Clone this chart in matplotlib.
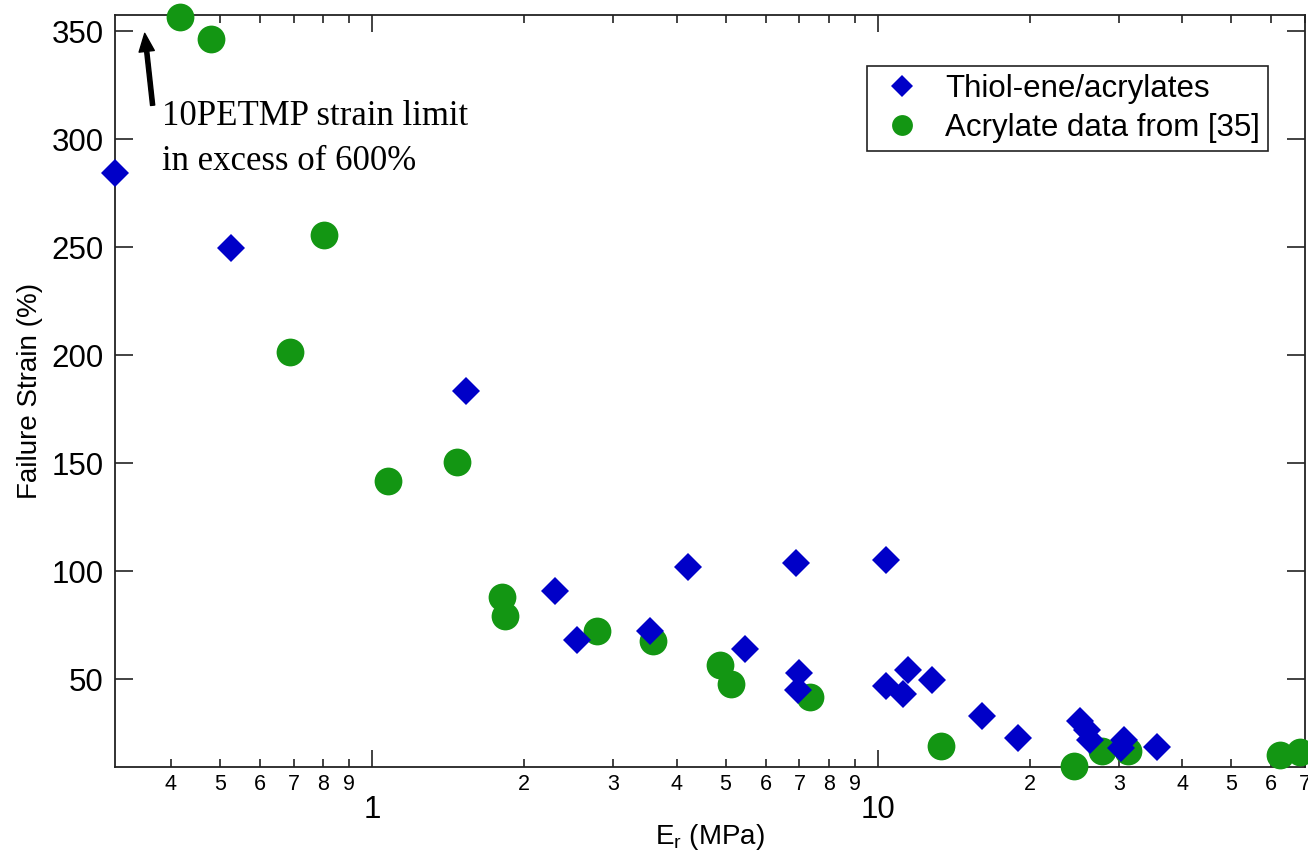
import numpy as np
import matplotlib.pyplot as plt
from matplotlib.ticker import FixedLocator, FixedFormatter

# Thiol-ene/acrylates (blue diamonds)
thiol_E = [0.31, 0.525, 1.53, 2.30, 2.54, 3.55, 4.22, 5.47, 6.89, 6.98, 6.95,
           10.37, 10.37, 11.2, 11.46, 12.8, 16.1, 18.97, 25.1, 25.9, 26.3,
           30.7, 30.3, 35.7]
thiol_strain = [284.5, 249.5, 183.3, 90.7, 68.0, 72.2, 101.9, 63.9, 103.7, 52.8, 44.9,
                105.1, 46.8, 43.0, 54.2, 49.5, 32.9, 22.7, 30.6, 26.4, 21.8,
                21.8, 18.0, 18.5]

# Acrylate data from [35] (green circles)
acr_E = [0.416, 0.481, 0.689, 0.804, 1.075, 1.47, 1.81, 1.83, 2.79, 3.60,
         4.88, 5.13, 7.34, 13.37, 24.4, 27.8, 31.3, 62.4, 68.3]
acr_strain = [356.5, 346.3, 201.4, 255.6, 141.7, 150.5, 88.0, 79.2, 72.2, 67.6,
              56.5, 47.7, 41.7, 19.0, 9.7, 16.7, 16.7, 14.8, 16.2]

major_x = [1, 10]
minor_x = [0.4, 0.5, 0.6, 0.7, 0.8, 0.9, 2, 3, 4, 5, 6, 7, 8, 9,
           20, 30, 40, 50, 60, 70]
minor_lbl = ['4', '5', '6', '7', '8', '9', '2', '3', '4', '5', '6', '7', '8', '9',
             '2', '3', '4', '5', '6', '7']
y_ticks = [50, 100, 150, 200, 250, 300, 350]

plt.rcParams['font.family'] = ['Liberation Sans', 'DejaVu Sans']

fig = plt.figure(figsize=(13.08, 8.52), dpi=100)
ax = fig.add_axes([0.0879, 0.0998, 0.9098, 0.8826])

blue = '#0000C8'
green = '#139613'

g, = ax.plot(acr_E, acr_strain, 'o', color=green, markersize=20,
             markeredgewidth=0, clip_on=False, zorder=5)
b, = ax.plot(thiol_E, thiol_strain, 'D', color=blue, markersize=14.5,
             markeredgewidth=0, clip_on=False, zorder=6)

ax.set_xscale('log')
ax.set_xlim(0.31, 70)
ax.set_ylim(9.3, 357.5)

ax.xaxis.set_major_locator(FixedLocator(major_x))
ax.xaxis.set_major_formatter(FixedFormatter(['1', '10']))
ax.xaxis.set_minor_locator(FixedLocator(minor_x))
ax.xaxis.set_minor_formatter(FixedFormatter(minor_lbl))
ax.set_yticks(y_ticks)

for s in ax.spines.values():
    s.set_linewidth(1.3)
    s.set_color('#222222')

ax.tick_params(which='both', direction='in', top=True, right=True,
               width=1.2, color='#222222')
ax.tick_params(axis='x', which='major', length=12, pad=20, labelsize=22.5)
ax.tick_params(axis='x', which='minor', length=6, pad=5, labelsize=15.5)
ax.tick_params(axis='y', which='major', length=13, pad=8, labelsize=22.5)

ax.set_xlabel(r'E$_\mathregular{r}$ (MPa)', fontsize=20, labelpad=-2)
ax.set_ylabel('Failure Strain (%)', fontsize=20, labelpad=6)

leg = ax.legend([b, g], ['Thiol-ene/acrylates', 'Acrylate data from [35]'],
                loc='upper right', bbox_to_anchor=(0.969, 0.932),
                borderaxespad=0, fontsize=22.5, markerscale=0.75,
                fancybox=False, edgecolor='#222222', framealpha=1,
                handletextpad=0.5, borderpad=0.25, labelspacing=0.3,
                handlelength=1.75)
leg.get_frame().set_linewidth(1.2)

ax.annotate('', xy=(0.355, 349), xytext=(0.368, 315.7),
            arrowprops=dict(facecolor='black', edgecolor='black',
                            width=3, headwidth=11, headlength=13))
ax.text(0.384, 318, '10PETMP strain limit\nin excess of 600%',
        family=['Liberation Serif', 'DejaVu Serif'], fontsize=25,
        ha='left', va='top', linespacing=1.45)

fig.savefig('out.png', dpi=100)
